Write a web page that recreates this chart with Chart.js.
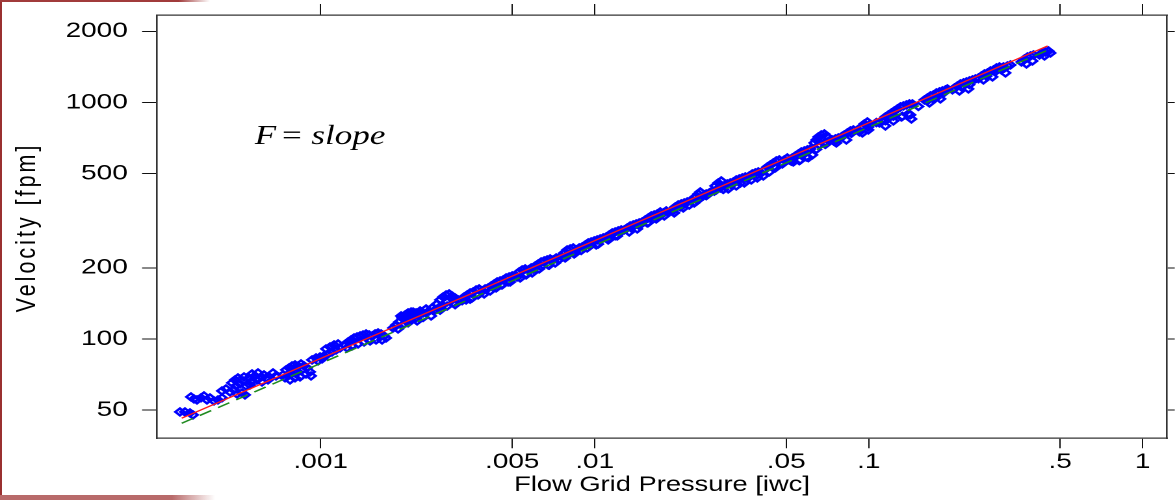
<!DOCTYPE html>
<html>
<head>
<meta charset="utf-8">
<script src="https://cdn.jsdelivr.net/npm/chart.js@4.4.1/dist/chart.umd.min.js"></script>
<style>
  html, body { margin: 0; padding: 0; background: #fff; }
  body { width: 1175px; height: 500px; position: relative; overflow: hidden; }
  /* the original picture is stretched sideways, so the whole chart is too */
  #quadro { position: absolute; left: 0; top: 0; width: 904px; height: 500px;
            transform: scaleX(1.2998); transform-origin: 0 0; }
  .borda { position: absolute; }
</style>
</head>
<body>
<div id="quadro"><canvas id="grafico"></canvas></div>
<div class="borda" style="left:0;top:0;width:2px;height:500px;background:#9a3030"></div>
<div class="borda" style="left:0;top:0;width:210px;height:2px;background:linear-gradient(to right,#a13b3b 85%,rgba(161,59,59,0))"></div>
<div class="borda" style="left:0;top:495px;width:215px;height:5px;background:linear-gradient(to right,#b86a6a 80%,rgba(184,106,106,0))"></div>
<script>
// flow grid pressure [iwc]
const pressure = [
  0.0003064, 0.0003195, 0.0003333, 0.0003418,
  0.0003361, 0.0003447, 0.0003535, 0.0003656, 0.0003749, 0.0003845, 0.0003943, 0.0004078, 0.0004217, 0.0004362,
  0.0004362, 0.0004511, 0.0004665, 0.0004825, 0.0004948, 0.0005161, 0.0005293,
  0.0004744, 0.0004865, 0.0004989, 0.0005075, 0.0005204, 0.0005337, 0.0004906, 0.0005249, 0.0005474, 0.0005614,
  0.0005757, 0.0005904, 0.0006054, 0.0006209, 0.0005614, 0.0005855, 0.0006106, 0.0006314, 0.0006421, 0.000552,
  0.0006698, 0.0006869,
  0.0007285, 0.0007471, 0.0007662, 0.0007858, 0.0008058, 0.0008264, 0.0008476, 0.0008692, 0.0008914, 0.0009142,
  0.0007409, 0.0007727, 0.0007991, 0.0008264, 0.0008548, 0.000884, 0.0008405, 0.0008058, 0.0007727, 0.0009219,
  0.0007598,
  0.0009297, 0.0009615, 0.0009944, 0.0010284, 0.0010635, 0.0011001, 0.0011376, 0.0011766, 0.0010817, 0.0011187,
  0.0011569, 0.0010458, 0.0009777, 0.0010113,
  0.0012271, 0.0012584, 0.0012906, 0.0013236, 0.0013574, 0.0013921, 0.0014276, 0.0014641, 0.0015015, 0.0015399,
  0.0015792, 0.0016194, 0.0016608, 0.0017033, 0.0012479, 0.0013016, 0.0013687, 0.0014397, 0.0015142, 0.0015925,
  0.001675, 0.0017322,
  0.0018372, 0.0018841, 0.0019323, 0.0019818, 0.0020323, 0.0020841, 0.0021374, 0.0021921, 0.002248, 0.0023055,
  0.001916, 0.0020153, 0.0021196, 0.0022292,
  0.0019651, 0.0020153, 0.0020668, 0.0021196, 0.0021737, 0.0022292, 0.0023055, 0.0023643, 0.0024247, 0.0024867,
  0.0025504, 0.0026154,
  0.0026598, 0.0027278, 0.0027974, 0.0028688, 0.0029422, 0.0030175, 0.0030944, 0.0031733, 0.0027507, 0.0028931,
  0.0030428,
  0.0032545, 0.0033378, 0.003423, 0.0035105, 0.0036, 0.003692, 0.0037864, 0.0038834, 0.0039823, 0.0033943,
  0.0035702, 0.0037545, 0.0039491,
  0.0040839, 0.0041884, 0.0042955, 0.0044052, 0.0045178, 0.004633, 0.0047514, 0.0048729, 0.0049975, 0.0041535,
  0.0043682, 0.0045946, 0.0048318,
  0.005168, 0.0053, 0.005436, 0.005574, 0.005717, 0.005863, 0.005345, 0.005621, 0.005913,
  0.006063, 0.006218, 0.006377, 0.00654, 0.006707, 0.006879, 0.007054, 0.007235, 0.006271, 0.006764, 0.007174,
  0.007545, 0.007738, 0.007935, 0.008139, 0.008347, 0.00856, 0.008779, 0.007803, 0.008417,
  0.009003, 0.009233, 0.009468, 0.00971, 0.009958, 0.010212, 0.010474, 0.00939, 0.010127,
  0.010741, 0.011016, 0.011297, 0.011587, 0.011882, 0.012185, 0.012496, 0.011202, 0.012084,
  0.012816, 0.013143, 0.013479, 0.013823, 0.014176, 0.014538, 0.013366, 0.014296,
  0.014911, 0.015291, 0.015681, 0.016082, 0.016493, 0.016914, 0.017347, 0.017789, 0.018244, 0.015551, 0.016772, 0.01794,
  0.018711, 0.01919, 0.019678, 0.02018, 0.020696, 0.021226, 0.021768, 0.022325, 0.019514, 0.021047,
  0.022705, 0.023283, 0.023877, 0.024283, 0.023088, 0.02408,
  0.024902, 0.025538, 0.026192, 0.026862, 0.027546, 0.028249, 0.028972, 0.027779, 0.028731, 0.029714,
  0.030472, 0.031251, 0.032048, 0.032867, 0.033707, 0.034571, 0.035451, 0.030728, 0.032867, 0.035156,
  0.036665, 0.037604, 0.038561, 0.039545, 0.037286, 0.039216,
  0.040557, 0.041594, 0.042656, 0.043747, 0.044863, 0.046009, 0.047186, 0.041245, 0.04338, 0.045624,
  0.047985, 0.049212, 0.050469,
  0.051325, 0.05264, 0.05398, 0.055357, 0.056773, 0.058225, 0.059712, 0.06124, 0.05308, 0.0563, 0.059211, 0.062281,
  0.063334, 0.064406, 0.065496, 0.06717, 0.068888, 0.070054, 0.066053, 0.069468,
  0.071846, 0.073692, 0.075569, 0.077496, 0.079472, 0.081505, 0.083586, 0.08573, 0.087916, 0.076206, 0.082884,
  0.091688, 0.094033, 0.096439, 0.098901, 0.10058, 0.094835, 0.099731,
  0.1094, 0.11221, 0.11506, 0.118, 0.12102, 0.12411, 0.12728, 0.13054, 0.13387, 0.13729, 0.1408, 0.1444,
  0.11506, 0.12307, 0.13164, 0.13961, 0.14318,
  0.15973, 0.16381, 0.168, 0.17228, 0.17669, 0.1812, 0.18581, 0.19054, 0.19377, 0.16659, 0.1827,
  0.2056, 0.21085, 0.2162, 0.22171, 0.22738, 0.23319, 0.2392, 0.24529, 0.21443, 0.23122,
  0.25155, 0.25795, 0.26455, 0.2713, 0.2783, 0.2854, 0.29269, 0.30017, 0.26232, 0.28303,
  0.30524, 0.31305, 0.32104, 0.3292, 0.31569,
  0.36111, 0.37035, 0.3798, 0.3895, 0.39943, 0.37661, 0.39612,
  0.42011, 0.4309, 0.44188, 0.45315, 0.4609, 0.43819,
  // lower side of the band
  0.0020841, 0.002248, 0.0023643, 0.0025289, 0.0027278, 0.0028931, 0.0030944, 0.0032823, 0.0035105, 0.0037545,
  0.0040159, 0.0042594, 0.0045558, 0.004914, 0.0052118, 0.0056213, 0.0059623, 0.0063771, 0.0068211, 0.0073571,
  0.0078688, 0.0084174, 0.0089274, 0.009629, 0.0102982, 0.0111087, 0.0118818, 0.0126027, 0.0135922, 0.0145385,
  0.015681, 0.0167725, 0.0177893, 0.0191898, 0.020524, 0.0221372, 0.0236779, 0.0255384, 0.0273163, 0.0294637,
  0.0315135, 0.033993, 0.0363555, 0.0392157, 0.0419444, 0.0452431, 0.0483939, 0.0521948, 0.0558283, 0.0602129,
  0.0644061, 0.0694676, 0.0749381, 0.0801498, 0.0864501, 0.0924684, 0.0997309, 0.106674, 0.115063, 0.12307,
  0.132759, 0.14199, 0.151858, 0.16381, 0.175207, 0.188948, 0.20218, 0.218016, 0.233193, 0.251546,
  0.269025, 0.290239, 0.310419
];

// velocity [fpm]
const velocity = [
  49.14, 49.14, 48.67, 47.73,
  56.87, 55.78, 55.24, 56.33, 57.43, 55.24, 56.33, 54.7, 55.24, 56.33,
  60.29, 61.48, 59.71, 60.88, 58.56, 59.13, 57.99,
  65.18, 67.11, 68.44, 64.55, 66.46, 63.31, 63.31, 69.1, 68.44, 71.15,
  69.78, 71.85, 69.1, 70.46, 66.46, 67.11, 65.82, 68.44, 67.11, 63.92,
  71.85, 69.78,
  70.46, 73.98, 75.44, 76.92, 77.66, 76.92, 78.43, 76.92, 75.44, 72.55,
  68.44, 71.85, 73.26, 72.55, 73.98, 71.15, 69.1, 68.44, 67.11, 69.78,
  69.78,
  81.54, 83.15, 83.96, 84.78, 86.45, 88.15, 89.88, 91.62, 92.51, 94.32,
  95.25, 90.76, 80.75, 82.34,
  94.32, 97.12, 99.03, 100.96, 101.94, 102.94, 103.94, 104.96, 103.94, 102.94,
  104.96, 105.99, 104.96, 102.94, 91.62, 93.41, 95.25, 97.12, 98.07, 99.03,
  99.03, 100.96,
  111.3, 114.6, 118.0, 122.7, 126.3, 128.8, 130.0, 128.8, 127.5, 128.8,
  110.2, 115.7, 120.3, 122.7,
  125.1, 122.7, 127.5, 125.1, 130.0, 128.8, 131.3, 128.8, 133.9, 131.3,
  135.2, 132.6,
  140.6, 146.2, 150.5, 153.5, 155.0, 152.0, 149.1, 146.2, 137.9, 143.4,
  142.0,
  146.2, 150.5, 153.5, 156.5, 158.0, 161.1, 162.7, 159.6, 162.7, 146.2,
  149.1, 153.5, 155.0,
  164.4, 167.6, 170.9, 174.2, 175.9, 177.7, 181.1, 182.9, 184.7, 159.6,
  164.4, 169.2, 174.2,
  184.7, 192.0, 195.8, 197.7, 195.8, 199.6, 181.1, 186.5, 190.2,
  203.6, 207.5, 211.6, 213.7, 215.8, 217.9, 215.8, 220.0, 197.7, 205.5, 209.6,
  224.4, 231.0, 237.9, 240.2, 242.5, 237.9, 242.5, 220.0, 228.8,
  244.9, 249.7, 254.7, 257.1, 259.7, 262.2, 264.8, 242.5, 249.7,
  267.4, 270.0, 275.3, 280.7, 283.5, 286.2, 289.0, 262.2, 272.6,
  289.0, 294.8, 300.5, 303.5, 306.5, 309.5, 283.5, 291.9,
  312.5, 318.6, 324.8, 331.2, 334.5, 337.8, 344.4, 341.1, 347.8, 309.5, 321.7, 331.2,
  344.4, 351.1, 361.6, 368.7, 372.3, 375.9, 379.6, 383.3, 341.1, 358.1,
  387.0, 398.6, 410.4, 418.5, 375.9, 394.7,
  402.5, 410.4, 414.4, 422.6, 443.7, 456.8, 465.8, 426.7, 435.1, 443.7,
  452.4, 456.8, 461.3, 470.3, 475.0, 479.6, 484.3, 430.9, 443.7, 456.8,
  489.1, 498.7, 503.6, 508.5, 470.3, 479.6,
  503.6, 518.5, 533.8, 544.3, 555.0, 565.9, 571.4, 489.1, 508.5, 528.6,
  555.0, 571.4, 582.7,
  571.4, 582.7, 594.2, 605.9, 617.8, 623.8, 629.9, 636.1, 560.4, 571.4, 588.4, 600.0,
  674.4, 694.3, 715.0, 729.0, 736.2, 722.0, 661.4, 680.9,
  687.6, 694.3, 701.2, 708.1, 715.0, 729.0, 743.4, 758.0, 765.4, 674.4, 694.3,
  765.4, 788.1, 811.5, 827.4, 803.6, 743.4, 765.4,
  819.4, 843.6, 868.6, 885.7, 903.2, 920.9, 939.1, 957.6, 966.9, 976.4, 986.0, 986.0,
  795.8, 835.5, 868.6, 894.4, 851.9,
  1025.1, 1045.2, 1065.7, 1076.2, 1097.4, 1108.1, 1118.9, 1129.8, 1141, 995.6, 1035.1,
  1152.2, 1174.8, 1197.9, 1209.7, 1221.4, 1233.4, 1245.4, 1258, 1118.9, 1141,
  1270.3, 1295.2, 1320.8, 1333.7, 1359.9, 1373.1, 1399.6, 1413.2, 1245.4, 1282.7,
  1373.1, 1399.6, 1427.0, 1441.0, 1333.7,
  1483.7, 1528, 1558.0, 1573.2, 1588.7, 1455.2, 1498.3,
  1588.7, 1620.0, 1635.7, 1651.8, 1620.0, 1573.2,
  // lower side of the band
  116.97, 119.16, 123.28, 125.1, 132.37, 137.76, 139.65, 145.2, 147.34, 153.79,
  162.08, 165.43, 169.34, 174.18, 182.86, 188.09, 197.48, 202.14, 205.12, 215.13,
  224.55, 234.4, 236.69, 248.34, 251.74, 266.59, 272.89, 286.5, 294.71, 301.68,
  310.32, 327.05, 340.04, 346.39, 361.56, 368.31, 384.82, 403.22, 421.28, 428.73,
  447.94, 456.31, 480.93, 494.7, 521.97, 536.4, 549.61, 564.78, 567.54, 583.79,
  633.51, 664.45, 683.48, 720.35, 740.98, 751.15, 787.84, 822.36, 837.71, 875.3,
  873.59, 886.44, 961.81, 1018.7, 1042.7, 1104.5, 1130.6, 1162.9, 1190.4, 1260.8,
  1291.9, 1353.6, 1414.2
];

// fitted lines, end points
const fitPressure = [0.000311, 0.450];
const fitRed = [46.2, 1735];
const fitGreen = [44.0, 1664];

const xTicks = [0.001, 0.005, 0.01, 0.05, 0.1, 0.5, 1];
const xTickLabels = [".001", ".005", ".01", ".05", ".1", ".5", "1"];
const yTicks = [50, 100, 200, 500, 1000, 2000];
const yTickLabels = ["50", "100", "200", "500", "1000", "2000"];

const xTitle = "Flow Grid Pressure [iwc]";
const yTitle = "Velocity [fpm]";

Chart.defaults.font.family = "'Liberation Sans', Arial, sans-serif";
Chart.defaults.color = "#000";

const pontos = pressure.map((x, i) => ({ x: x, y: velocity[i] }));
const linha = (ys) => fitPressure.map((x, i) => ({ x: x, y: ys[i] }));

const textos = {
  id: "textos",
  afterDraw(chart) {
    const ctx = chart.ctx;
    ctx.save();
    ctx.fillStyle = "#000";
    ctx.font = "21.5px 'Liberation Sans'";
    ctx.letterSpacing = "3px";
    ctx.textAlign = "center";
    ctx.textBaseline = "middle";
    ctx.translate(21, 227.5);
    ctx.rotate(-Math.PI / 2);
    ctx.fillText(yTitle, 0, 0);
    ctx.restore();

    ctx.save();
    ctx.fillStyle = "#000";
    ctx.textBaseline = "alphabetic";
    ctx.textAlign = "left";
    ctx.font = "italic 27px 'Liberation Serif'";
    ctx.fillText("F", 196, 144);
    ctx.font = "27px 'Liberation Serif'";
    ctx.fillText("=", 217, 144);
    ctx.font = "italic 27px 'Liberation Serif'";
    ctx.fillText("slope", 239.5, 144);
    ctx.restore();
  }
};

const eixoBase = {
  type: "logarithmic",
  grid: { drawOnChartArea: false, drawTicks: true, color: "#111", lineWidth: 1 },
  border: { display: true, color: "#333", width: 1.3 }
};

new Chart(document.getElementById("grafico"), {
  type: "scatter",
  data: {
    datasets: [
      {
        data: linha(fitRed),
        showLine: true,
        borderColor: "#ff1a1a",
        borderWidth: 1.3,
        pointRadius: 0,
        fill: false
      },
      {
        data: linha(fitGreen),
        showLine: true,
        borderColor: "#1f8a1f",
        borderWidth: 1.5,
        borderDash: [10, 6],
        pointRadius: 0,
        fill: false
      },
      {
        data: pontos,
        pointStyle: "rectRot",
        pointRadius: 3.5,
        pointBorderWidth: 2.2,
        borderColor: "#0000ff",
        backgroundColor: "rgba(0,0,0,0)"
      }
    ]
  },
  options: {
    responsive: true,
    maintainAspectRatio: false,
    devicePixelRatio: 2,
    animation: false,
    events: [],
    layout: { padding: 0 },
    plugins: { legend: { display: false }, tooltip: { enabled: false } },
    scales: {
      x: {
        ...eixoBase,
        position: "bottom",
        min: 0.0002527,
        max: 1.2266,
        afterBuildTicks: s => { s.ticks = xTicks.map(v => ({ value: v })); },
        afterFit: s => { s.height = 61.7; },
        grid: { ...eixoBase.grid, tickLength: 10 },
        ticks: {
          autoSkip: false, maxRotation: 0, padding: 1,
          font: { size: 21.5 },
          callback: v => xTickLabels[xTicks.indexOf(v)]
        },
        title: { display: true, text: xTitle, font: { size: 21 }, padding: { top: 0, bottom: 2 } }
      },
      xTopo: {
        ...eixoBase,
        axis: "x",
        position: "top",
        min: 0.0002527,
        max: 1.2266,
        afterBuildTicks: s => { s.ticks = xTicks.map(v => ({ value: v })); },
        afterFit: s => { s.height = 15; },
        grid: { ...eixoBase.grid, tickLength: 11 },
        ticks: { display: false, padding: 0 }
      },
      y: {
        ...eixoBase,
        position: "left",
        min: 38.0,
        max: 2344,
        afterBuildTicks: s => { s.ticks = yTicks.map(v => ({ value: v })); },
        afterFit: s => { s.width = 120.8; },
        grid: { ...eixoBase.grid, tickLength: 11.5 },
        ticks: {
          padding: 11,
          // small line height so the labels do not push the plot area down
          font: { size: 21.5, lineHeight: 0.1 },
          callback: v => yTickLabels[yTicks.indexOf(v)]
        }
      },
      yDireita: {
        ...eixoBase,
        axis: "y",
        position: "right",
        min: 38.0,
        max: 2344,
        afterBuildTicks: s => { s.ticks = yTicks.map(v => ({ value: v })); },
        afterFit: s => { s.width = 6.2; },
        grid: { ...eixoBase.grid, tickLength: 6 },
        ticks: { display: false, padding: 0 }
      }
    }
  },
  plugins: [textos]
});
</script>
</body>
</html>
